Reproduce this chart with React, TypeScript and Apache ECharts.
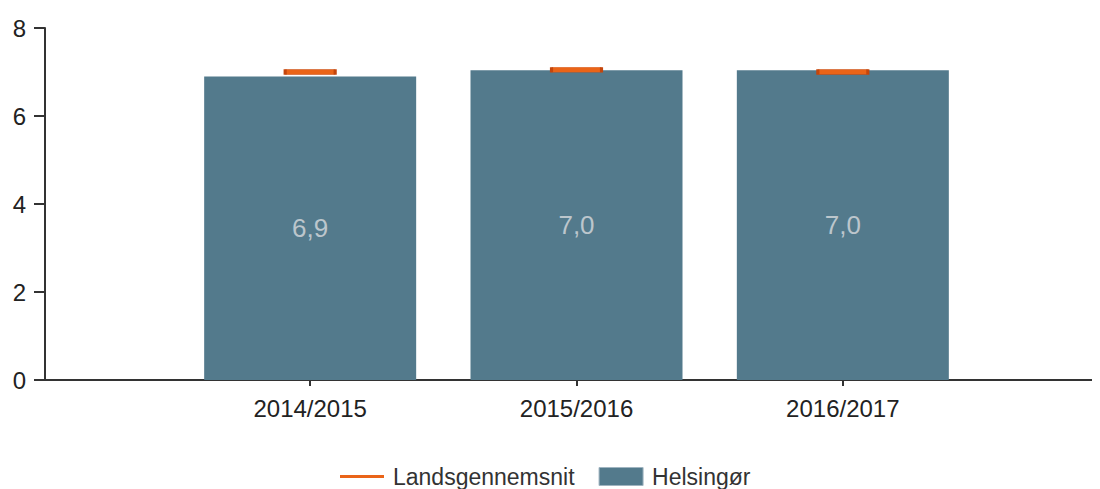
import React, { useEffect, useRef } from "react";
import * as echarts from "echarts";

const categories = ["2014/2015", "2015/2016", "2016/2017"];
const helsingorValues = [6.9, 7.04, 7.04];
const landsValues = [7.0, 7.05, 7.0];
const yTicks = { min: 0, max: 8, interval: 2 };

const FONT = "'Liberation Sans', Arial, sans-serif";
const BAR_COLOR = "#537a8c";
const ORANGE = "#ea6418";

export default function App() {
  const ref = useRef<HTMLDivElement>(null);
  useEffect(() => {
    if (!ref.current) return;
    const chart = echarts.init(ref.current, undefined, { renderer: "svg" });
    const axisColor = "#333333";
    chart.setOption({
      animation: false,
      textStyle: { fontFamily: FONT },
      grid: [
        { left: 45, right: 0, top: 28, bottom: 109 },
        { left: 177, right: 124, top: 28, bottom: 109 },
      ],
      xAxis: [
        {
          gridIndex: 0,
          type: "value",
          min: 0,
          max: 1,
          axisLine: { show: true, lineStyle: { color: axisColor, width: 2 } },
          axisTick: { show: false },
          axisLabel: { show: false },
          splitLine: { show: false },
        },
        {
          gridIndex: 1,
          type: "category",
          data: categories,
          axisLine: { show: false },
          axisTick: {
            show: true,
            alignWithLabel: true,
            length: 6,
            lineStyle: { color: axisColor, width: 2 },
          },
          axisLabel: {
            fontSize: 24,
            color: "#222",
            margin: 16,
            fontFamily: FONT,
          },
        },
      ],
      yAxis: [
        {
          gridIndex: 0,
          type: "value",
          min: yTicks.min,
          max: yTicks.max,
          interval: yTicks.interval,
          axisLine: { show: true, lineStyle: { color: axisColor, width: 2 } },
          axisTick: { show: true, length: 11, lineStyle: { color: axisColor, width: 2 } },
          axisLabel: { fontSize: 24, color: "#222", margin: 19, fontFamily: FONT },
          splitLine: { show: false },
        },
        {
          gridIndex: 1,
          type: "value",
          min: yTicks.min,
          max: yTicks.max,
          show: false,
        },
      ],
      legend: {
        top: 465,
        left: 340,
        padding: 0,
        itemWidth: 44,
        itemHeight: 18,
        itemGap: 24,
        textStyle: { fontSize: 23, color: "#333", fontFamily: FONT, padding: [0, 0, 0, 4] },
        data: [
          {
            name: "Landsgennemsnit",
            icon: "path://M0,0L0,0M0,7.5H44V10.5H0ZM44,18L44,18",
            itemStyle: { color: ORANGE, borderWidth: 0 },
          },
          { name: "Helsingør", icon: "rect", itemStyle: { color: BAR_COLOR, borderColor: "#9fb4c0", borderWidth: 1 } },
        ],
      },
      series: [
        {
          name: "Helsingør",
          type: "bar",
          xAxisIndex: 1,
          yAxisIndex: 1,
          data: helsingorValues,
          barWidth: 212,
          itemStyle: { color: BAR_COLOR },
          label: {
            show: true,
            position: "inside",
            fontSize: 26,
            color: "#bcc6cc",
            fontFamily: FONT,
            formatter: (p: any) => Number(p.value).toFixed(1).replace(".", ","),
          },
          z: 2,
        },
        {
          name: "Landsgennemsnit",
          type: "scatter",
          xAxisIndex: 1,
          yAxisIndex: 1,
          data: landsValues,
          symbol: "rect",
          symbolSize: [50, 5],
          itemStyle: { color: ORANGE, borderColor: "#c4460c", borderWidth: 1, opacity: 1 },
          z: 5,
        },
      ],
    });
    return () => chart.dispose();
  }, []);
  return <div ref={ref} style={{ width: 1100, height: 489, marginLeft: -8, marginTop: -8 }} />;
}
